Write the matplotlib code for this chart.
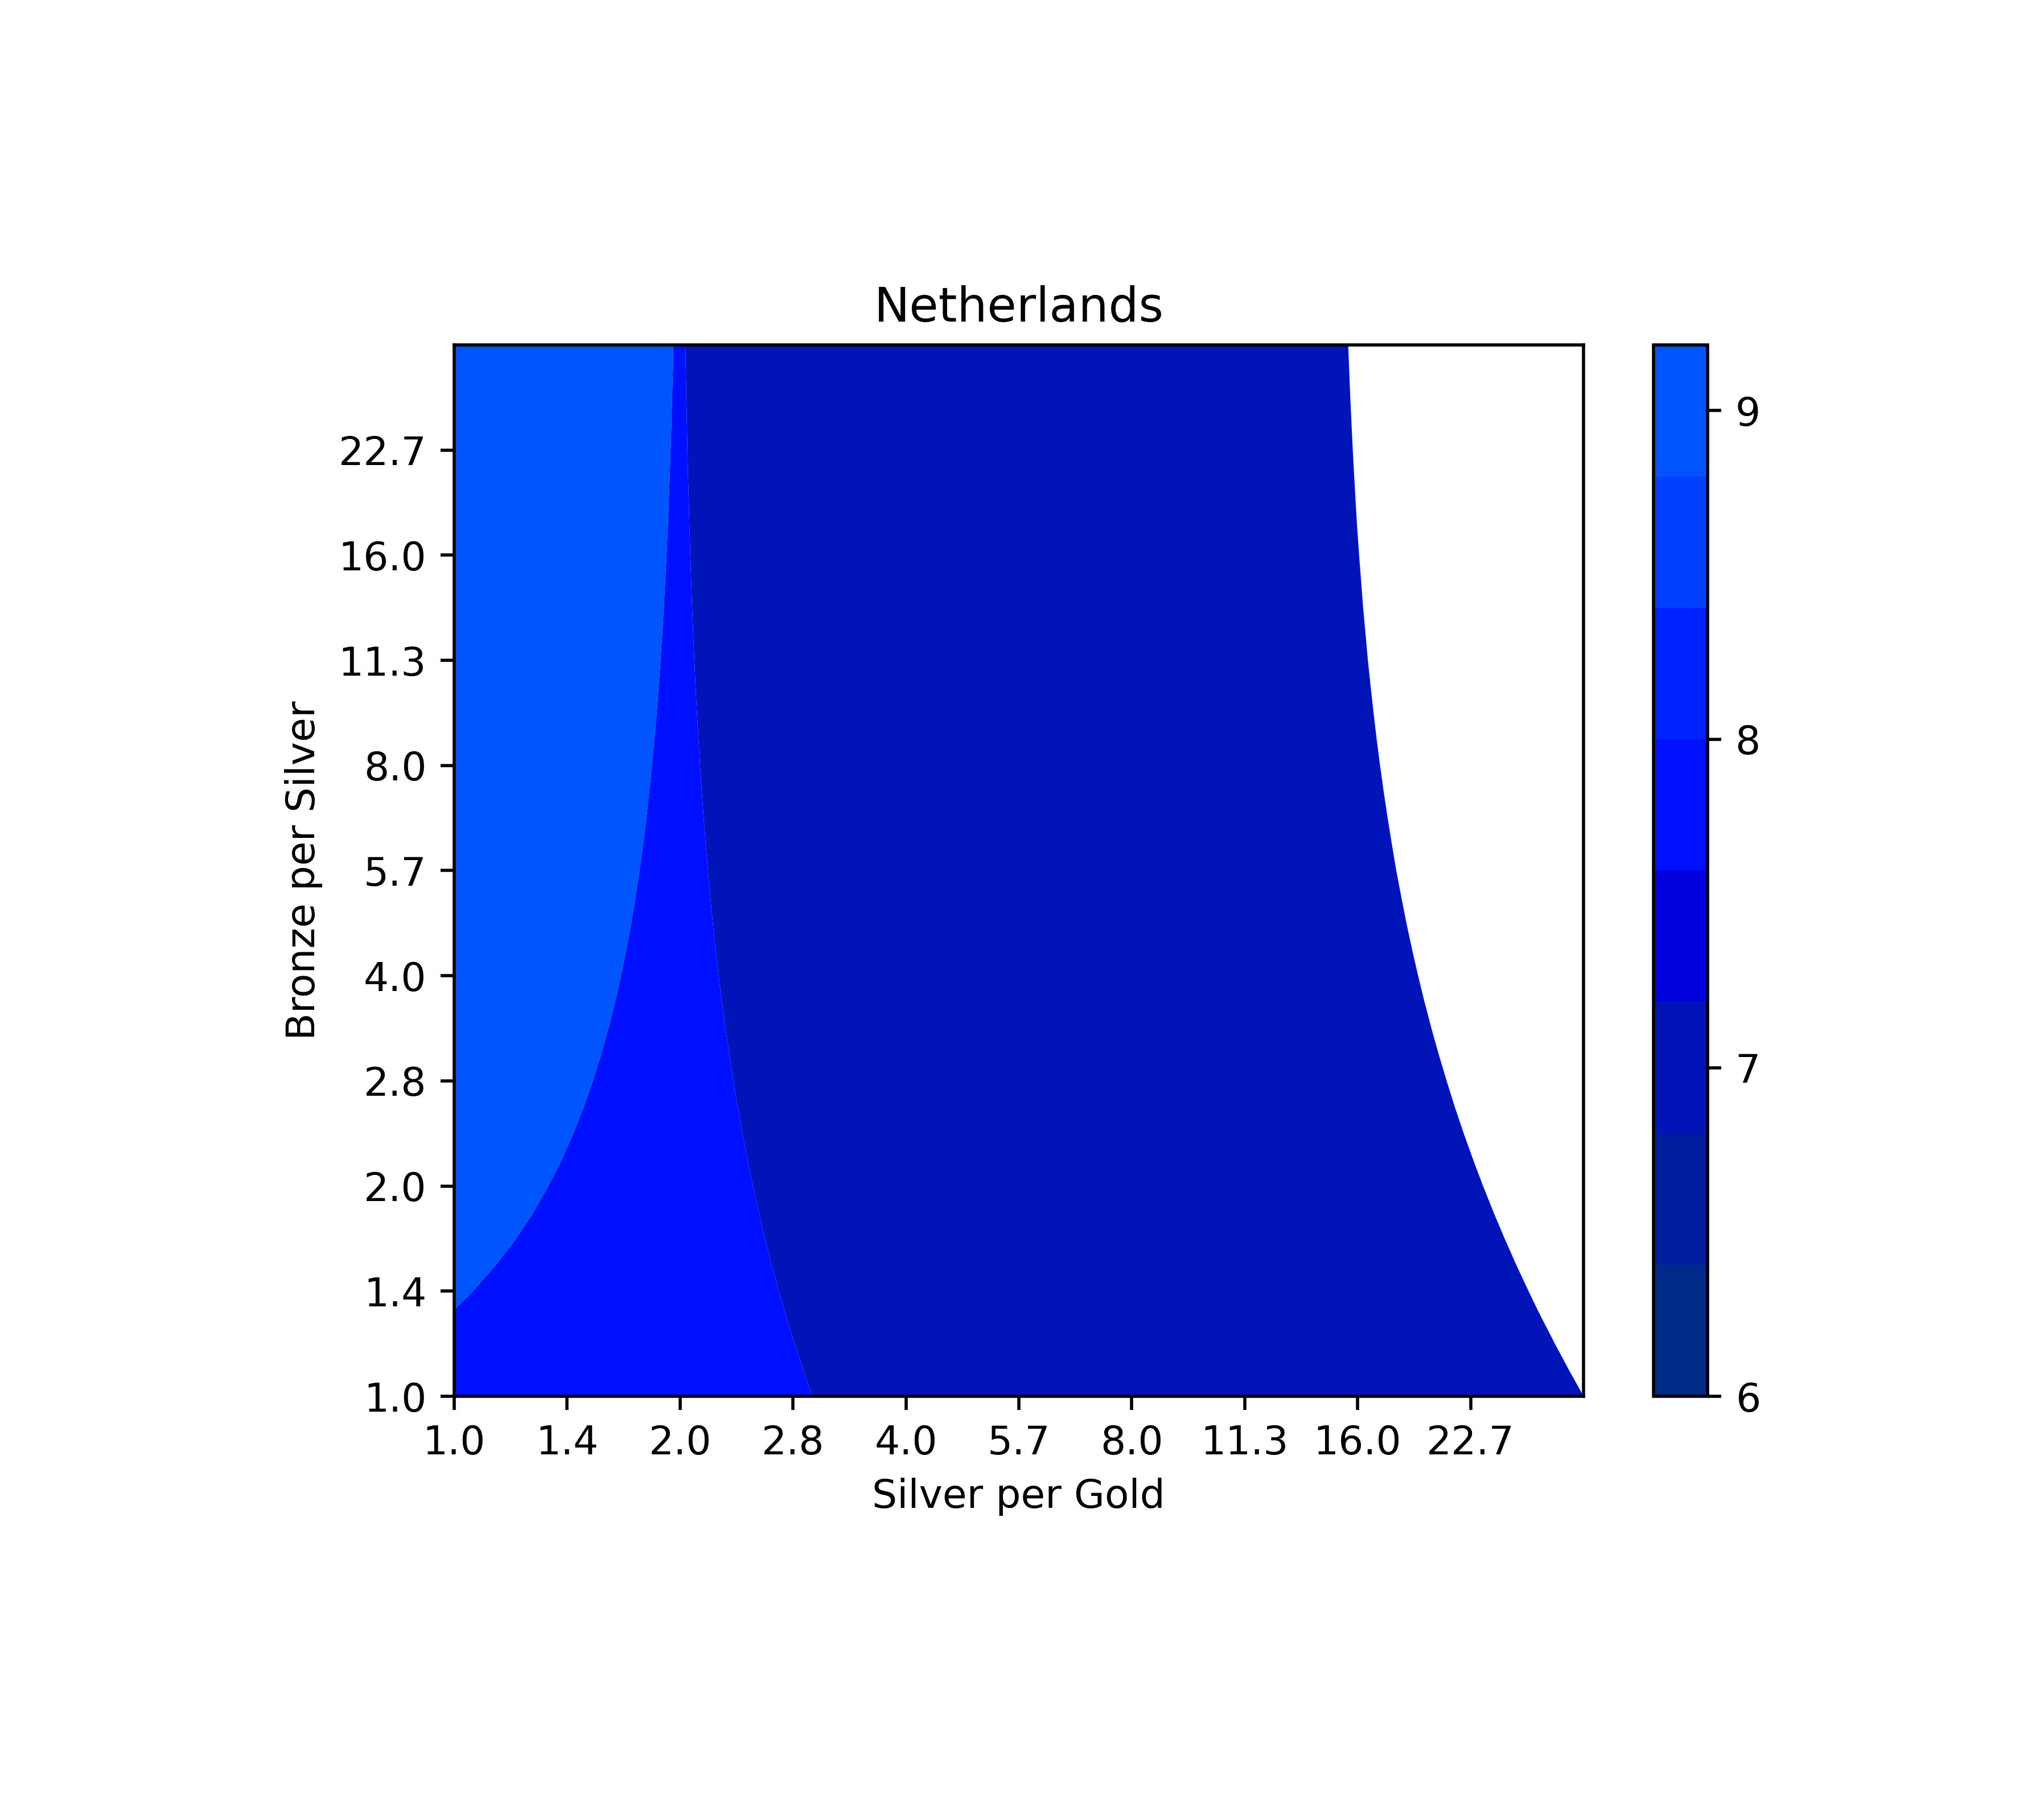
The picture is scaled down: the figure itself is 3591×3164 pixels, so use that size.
import matplotlib
matplotlib.use("Agg")
import matplotlib.pyplot as plt
import numpy as np
from matplotlib.colors import ListedColormap, BoundaryNorm
from matplotlib.cm import ScalarMappable

BRONZE_PER_SILVER = [1.0, 1.09, 1.19, 1.3, 1.333, 1.41, 1.54, 1.68, 1.83, 2.0, 2.18, 2.38,
                     2.59, 2.83, 3.08, 3.36, 3.67, 4.0, 4.36, 4.76, 5.19, 5.66, 6.17, 6.73,
                     7.34, 8.0, 8.72, 9.51, 10.37, 11.31, 12.34, 13.45, 14.67, 16.0, 17.45,
                     19.03, 20.75, 22.63, 24.67, 26.91, 29.34, 32.0]

# Silver per gold where the rank changes (one value per row above)
EDGE_9_TO_8 = [1.0, 1.0, 1.0, 1.0, 1.0, 1.055, 1.134, 1.207, 1.272, 1.333, 1.389, 1.44,
               1.485, 1.529, 1.567, 1.603, 1.637, 1.667, 1.694, 1.72, 1.743, 1.764, 1.784,
               1.802, 1.818, 1.833, 1.847, 1.86, 1.871, 1.882, 1.892, 1.901, 1.909, 1.917,
               1.924, 1.93, 1.936, 1.941, 1.946, 1.95, 1.955, 1.958]
EDGE_8_TO_7 = [3.0, 2.917, 2.84, 2.769, 2.75, 2.709, 2.649, 2.595, 2.546, 2.5, 2.459, 2.42,
               2.386, 2.353, 2.325, 2.298, 2.272, 2.25, 2.229, 2.21, 2.193, 2.177, 2.162,
               2.149, 2.136, 2.125, 2.115, 2.105, 2.096, 2.088, 2.081, 2.074, 2.068, 2.0625,
               2.057, 2.053, 2.048, 2.044, 2.041, 2.037, 2.034, 2.031]
EDGE_7_TO_OUT = [32.0, 30.6, 29.29, 28.08, 27.75, 27.06, 26.04, 25.12, 24.29, 23.5, 22.8,
                 22.14, 21.56, 21.01, 20.52, 20.06, 19.63, 19.25, 18.9, 18.57, 18.28, 18.0,
                 17.76, 17.53, 17.32, 17.125, 16.95, 16.79, 16.64, 16.5, 16.38, 16.26, 16.16,
                 16.06, 15.97, 15.89, 15.82, 15.75, 15.69, 15.63, 15.58, 15.53]

RANKS = [9, 8, 7]

LEVELS = [6.0, 6.4, 6.8, 7.2, 7.6, 8.0, 8.4, 8.8, 9.2]
BAND_COLORS = ["#002a88", "#001c9e", "#0014b8", "#0000dd",
               "#000fff", "#0022ff", "#0040ff", "#0055ff"]
CBAR_TICKS = [6, 7, 8, 9]

TICK_LABELS = ["1.0", "1.4", "2.0", "2.8", "4.0", "5.7", "8.0", "11.3", "16.0", "22.7"]
LIMITS = (1.0, 32.0)


def band_color(value):
    # contourf bands are closed at the top: (lo, hi]
    idx = np.searchsorted(LEVELS, value, side="left") - 1
    return BAND_COLORS[max(idx, 0)]


def main():
    dpi = 500
    fig = plt.figure(figsize=(3591 / dpi, 3164 / dpi), dpi=dpi)
    ax = fig.add_axes([0.2222, 0.2247, 0.5525, 0.5838])
    cax = fig.add_axes([0.8090, 0.2247, 0.02646, 0.5838])

    y = np.array(BRONZE_PER_SILVER)
    left = np.full_like(y, LIMITS[0])
    edges = [left, np.array(EDGE_9_TO_8), np.array(EDGE_8_TO_7), np.array(EDGE_7_TO_OUT)]

    ax.set_xscale("log", base=2)
    ax.set_yscale("log", base=2)

    for i, rank in enumerate(RANKS):
        ax.fill_betweenx(y, edges[i], edges[i + 1], color=band_color(rank),
                         linewidth=0, antialiased=False)

    ticks = [2 ** (k / 2) for k in range(len(TICK_LABELS))]
    ax.set_xlim(*LIMITS)
    ax.set_ylim(*LIMITS)
    ax.set_xticks(ticks)
    ax.set_xticklabels(TICK_LABELS)
    ax.set_yticks(ticks)
    ax.set_yticklabels(TICK_LABELS)
    ax.minorticks_off()

    ax.set_title("Netherlands", fontsize=12)
    ax.set_xlabel("Silver per Gold")
    ax.set_ylabel("Bronze per Silver")

    cmap = ListedColormap(BAND_COLORS)
    norm = BoundaryNorm(LEVELS, cmap.N)
    sm = ScalarMappable(norm=norm, cmap=cmap)
    cb = fig.colorbar(sm, cax=cax, ticks=CBAR_TICKS)
    cb.ax.set_yticklabels([str(t) for t in CBAR_TICKS])
    cb.ax.minorticks_off()

    fig.savefig("out.png", dpi=dpi)


main()
